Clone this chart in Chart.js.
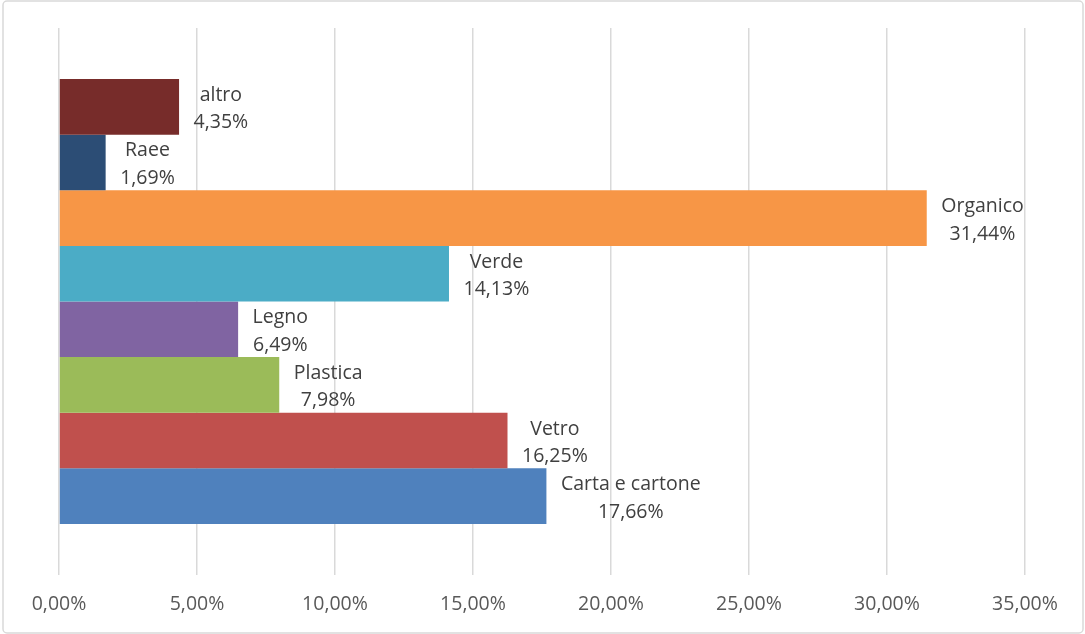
<!DOCTYPE html>
<html>
<head>
<meta charset="utf-8">
<script src="https://cdn.jsdelivr.net/npm/chart.js@4"></script>
<style>
  html, body { margin: 0; padding: 0; background: #fff; }
  #wrap { width: 1085px; height: 634px; position: relative; }
</style>
</head>
<body>
<div id="wrap"><canvas id="chart1"></canvas></div>
<script>
// rifiuti raccolti per tipologia (percentuali)
var categorie = ['Carta e cartone', 'Vetro', 'Plastica', 'Legno', 'Verde', 'Organico', 'Raee', 'altro'];
var percentuali = [17.66, 16.25, 7.98, 6.49, 14.13, 31.44, 1.69, 4.35];
var colori = ['#4F81BD', '#C0504D', '#9BBB59', '#8064A2', '#4BACC6', '#F79646', '#2C4D75', '#772C2A'];
var tickMax = 35;
var tickStep = 5;

function formatPct(v) {
	return v.toFixed(2).replace('.', ',') + '%';
}

// first dataset is drawn on top, so build them from the last category down
var datasets = [];
for (var i = categorie.length - 1; i >= 0; i--) {
	datasets.push({
		label: categorie[i],
		data: [percentuali[i]],
		backgroundColor: colori[i],
		borderColor: colori[i],
		borderWidth: 0,
		barPercentage: 1,
		categoryPercentage: 0.8135
	});
}

var FONT = '"Open Sans", sans-serif';

var labelPlugin = {
	id: 'etichette',
	afterDatasetsDraw: function(chart) {
		var ctx = chart.ctx;
		ctx.save();
		ctx.font = '19.5px ' + FONT;
		ctx.fillStyle = '#404040';
		ctx.textAlign = 'center';
		ctx.textBaseline = 'alphabetic';
		chart.data.datasets.forEach(function(ds, i) {
			var bar = chart.getDatasetMeta(i).data[0];
			var name = ds.label;
			var val = formatPct(ds.data[0]);
			var w = Math.max(ctx.measureText(name).width, ctx.measureText(val).width);
			var cx = bar.x + 14.5 + w / 2;
			ctx.fillText(name, cx, bar.y - 6);
			ctx.fillText(val, cx, bar.y + 21.5);
		});
		ctx.restore();
	}
};

var framePlugin = {
	id: 'cornice',
	afterDraw: function(chart) {
		var ctx = chart.ctx;
		ctx.save();
		ctx.strokeStyle = '#d9d9d9';
		ctx.lineWidth = 1.5;
		ctx.beginPath();
		ctx.roundRect(3, 1, 1080, 632, 4);
		ctx.stroke();
		ctx.restore();
	}
};

var ctx = document.getElementById('chart1').getContext('2d');
new Chart(ctx, {
	type: 'bar',
	data: {
		labels: [''],
		datasets: datasets
	},
	options: {
		indexAxis: 'y',
		responsive: true,
		maintainAspectRatio: false,
		animation: false,
		layout: { padding: { left: 59, right: 60, top: 28, bottom: 0 } },
		plugins: {
			legend: { display: false },
			tooltip: { enabled: false }
		},
		scales: {
			y: { display: false },
			x: {
				min: 0,
				max: tickMax,
				border: { display: false },
				grid: { color: '#d9d9d9', lineWidth: 1.5, drawTicks: false },
				ticks: {
					stepSize: tickStep,
					color: '#595959',
					font: { family: FONT, size: 19.5 },
					padding: 18,
					maxRotation: 0,
					callback: function(v) { return formatPct(v); }
				},
				afterFit: function(scale) { scale.height = 59; }
			}
		}
	},
	plugins: [labelPlugin, framePlugin]
});
</script>
</body>
</html>
